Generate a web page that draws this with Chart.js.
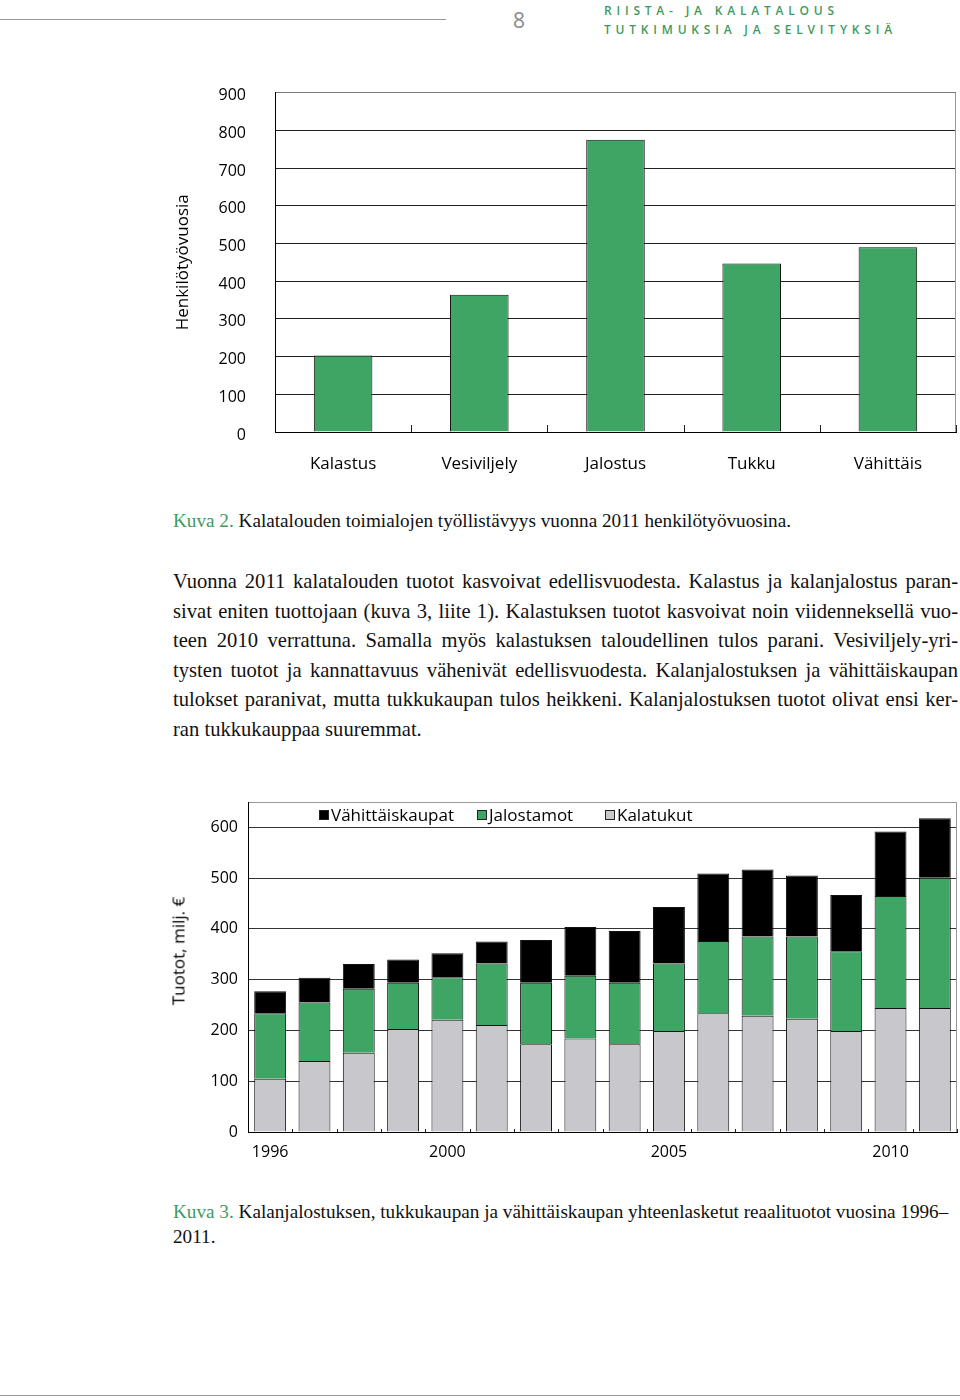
<!DOCTYPE html>
<html>
<head>
<meta charset="utf-8">
<script src="https://cdn.jsdelivr.net/npm/chart.js@4.4.1/dist/chart.umd.min.js"></script>
<style>
  body { margin: 0; background: #fff; }
  #page { position: relative; width: 960px; height: 1400px; overflow: hidden; }
  .hline { position: absolute; height: 0; border-top: 1.5px solid #999; }
  .pagenum { position: absolute; left: 513px; top: 6px; font: 21px 'Open Sans', sans-serif; color: #8a8a8a; }
  .series { position: absolute; left: 604px; font: 600 12px 'Open Sans', sans-serif; color: #3f9a60; letter-spacing: 4.8px; }
  .serif { position: absolute; font-family: 'Liberation Serif', 'Times New Roman', serif; color: #111; }
  .green { color: #3f9a60; }
  .para { left: 173px; top: 567px; width: 785px; font-size: 20.6px; line-height: 29.5px; }
  .para div { text-align: justify; text-align-last: justify; white-space: nowrap; }
  .para div.last { text-align-last: left; }
  .wrap { position: absolute; }
  .legend { position: absolute; top: 803px; font: 17px 'Open Sans', sans-serif; color: #000; white-space: nowrap; }
  .legend i { display: inline-block; width: 8px; height: 8px; border: 1px solid #222; margin-right: 2px; vertical-align: 1px; }
  .ytitle { position: absolute; font: 17px 'Open Sans', sans-serif; color: #000; white-space: nowrap;
            transform: translate(-50%, -50%) rotate(-90deg); }
</style>
</head>
<body>
<div id="page">
  <div class="hline" style="left:0; top:19px; width:446px;"></div>
  <div class="pagenum">8</div>
  <div class="series" style="top:2px;">RIISTA- JA KALATALOUS</div>
  <div class="series" style="top:21px;">TUTKIMUKSIA JA SELVITYKSIÄ</div>

  <div class="wrap" style="left:160px; top:54px; width:800px; height:426px;"><canvas id="employment"></canvas></div>

  <div class="serif" style="left:173px; top:510px; font-size:19.2px;"><span class="green">Kuva 2.</span> Kalatalouden toimialojen työllistävyys vuonna 2011 henkilötyövuosina.</div>

  <div class="serif para">
    <div>Vuonna 2011 kalatalouden tuotot kasvoivat edellisvuodesta. Kalastus ja kalanjalostus paran-</div>
    <div>sivat eniten tuottojaan (kuva 3, liite 1). Kalastuksen tuotot kasvoivat noin viidenneksellä vuo-</div>
    <div>teen 2010 verrattuna. Samalla myös kalastuksen taloudellinen tulos parani. Vesiviljely-yri-</div>
    <div>tysten tuotot ja kannattavuus vähenivät edellisvuodesta. Kalanjalostuksen ja vähittäiskaupan</div>
    <div>tulokset paranivat, mutta tukkukaupan tulos heikkeni. Kalanjalostuksen tuotot olivat ensi ker-</div>
    <div class="last">ran tukkukauppaa suuremmat.</div>
  </div>

  <div class="wrap" style="left:160px; top:780px; width:800px; height:400px;"><canvas id="revenue"></canvas></div>
  <div class="ytitle" style="left:178px; top:951px;">Tuotot, milj. €</div>
  <div class="legend" style="left:319px;"><i style="background:#000;"></i>Vähittäiskaupat</div>
  <div class="legend" style="left:477px;"><i style="background:#3fa564;"></i>Jalostamot</div>
  <div class="legend" style="left:605px;"><i style="background:#c8c8cc;"></i>Kalatukut</div>

  <div class="serif" style="left:173px; top:1199px; width:771px; font-size:19.2px; line-height:25px;">
    <div style="text-align:justify; text-align-last:justify; white-space:nowrap;"><span class="green">Kuva 3.</span> Kalanjalostuksen, tukkukaupan ja vähittäiskaupan yhteenlasketut reaalituotot vuosina 1996–</div>
    <div>2011.</div>
  </div>

  <div class="hline" style="left:0; top:1395px; width:960px;"></div>
</div>

<script>
// Kuva 2: henkilötyövuodet 2011
const sectors = ["Kalastus", "Vesiviljely", "Jalostus", "Tukku", "Vähittäis"];
const personYears = [203, 364, 775, 447, 490];

// Kuva 3: tuotot, milj. € 1996-2011
const years = ["1996", "1997", "1998", "1999", "2000", "2001", "2002", "2003",
               "2004", "2005", "2006", "2007", "2008", "2009", "2010", "2011"];
const shownYears = ["1996", "2000", "2005", "2010"];
const kalatukut = [105, 140, 156, 203, 221, 211, 173, 184, 173, 199, 234, 229, 223, 199, 244, 244];
const jalostamot = [129, 115, 126, 91, 84, 121, 121, 124, 121, 133, 142, 156, 162, 157, 221, 257];
const vahittaiskaupat = [43, 49, 49, 46, 47, 43, 84, 96, 102, 111, 133, 132, 120, 111, 127, 117];

const green = "#3fa564";
const grey = "#c8c8cc";

Chart.defaults.font.family = "'Open Sans', sans-serif";
Chart.defaults.color = "#000";

// small inward tick marks between categories + thin grey right frame
const frameTicks = {
  id: "frameTicks",
  afterDatasetsDraw(chart, args, opts) {
    const { ctx, chartArea } = chart;
    const x = chart.scales.x;
    const n = chart.data.labels.length;
    const half = (x.getPixelForValue(1) - x.getPixelForValue(0)) / 2;
    ctx.save();
    ctx.strokeStyle = "#222";
    ctx.lineWidth = 1;
    for (let i = 1; i <= n; i++) {
      const px = Math.round(x.getPixelForValue(i) - half) + 0.5;
      ctx.beginPath();
      ctx.moveTo(px, chartArea.bottom);
      ctx.lineTo(px, chartArea.bottom - opts.len);
      ctx.stroke();
    }
    ctx.strokeStyle = "#999";
    ctx.beginPath();
    ctx.moveTo(chartArea.right - 0.5, chartArea.top);
    ctx.lineTo(chartArea.right - 0.5, chartArea.bottom);
    ctx.stroke();
    ctx.restore();
  }
};

new Chart(document.getElementById("employment"), {
  type: "bar",
  data: {
    labels: sectors,
    datasets: [{
      data: personYears,
      backgroundColor: green,
      borderColor: "#111",
      borderWidth: 1,
      barPercentage: 0.43,
      categoryPercentage: 1
    }]
  },
  plugins: [frameTicks],
  options: {
    responsive: true,
    maintainAspectRatio: false,
    animation: false,
    layout: { padding: { top: 6, right: 4, left: 0, bottom: 0 } },
    plugins: {
      legend: { display: false },
      tooltip: { enabled: false },
      frameTicks: { len: 7 }
    },
    scales: {
      x: {
        grid: { display: false },
        border: { display: true, color: "#000", width: 1 },
        ticks: { font: { size: 17 }, padding: 14 },
        afterFit: (s) => { s.height = 48; }
      },
      y: {
        min: 0,
        max: 900,
        ticks: { stepSize: 100, font: { size: 16 }, padding: 29, labelOffset: 3 },
        grid: {
          drawTicks: false,
          color: (c) => c.tick && c.tick.value === 900 ? "#777" : "#222"
        },
        border: { color: "#000", width: 1 },
        title: { display: true, text: "Henkilötyövuosia", font: { size: 17 }, padding: { top: 13, bottom: 0 } },
        afterFit: (s) => { s.width = 115; }
      }
    }
  }
});

new Chart(document.getElementById("revenue"), {
  type: "bar",
  data: {
    labels: years,
    datasets: [
      { label: "Kalatukut", data: kalatukut, backgroundColor: grey },
      { label: "Jalostamot", data: jalostamot, backgroundColor: green },
      { label: "Vähittäiskaupat", data: vahittaiskaupat, backgroundColor: "#000" }
    ].map(d => Object.assign(d, { borderColor: "#111", borderWidth: 1, barPercentage: 0.72, categoryPercentage: 1 }))
  },
  plugins: [frameTicks],
  options: {
    responsive: true,
    maintainAspectRatio: false,
    animation: false,
    layout: { padding: { top: 22, right: 3, left: 0, bottom: 0 } },
    plugins: {
      legend: { display: false },
      tooltip: { enabled: false },
      frameTicks: { len: 3 }
    },
    scales: {
      x: {
        stacked: true,
        grid: { display: false },
        border: { display: true, color: "#000", width: 1 },
        ticks: {
          autoSkip: false,
          maxRotation: 0,
          font: { size: 16 },
          padding: 3,
          callback: function (v) {
            const lab = this.getLabelForValue(v);
            return shownYears.includes(lab) ? lab : "";
          }
        },
        afterFit: (s) => { s.height = 48; }
      },
      y: {
        stacked: true,
        min: 0,
        max: 650,
        ticks: {
          stepSize: 100,
          font: { size: 16 },
          padding: 10,
          callback: (v) => v === 650 ? "" : v
        },
        grid: {
          drawTicks: false,
          color: (c) => c.tick && c.tick.value === 650 ? "#999" : "#333"
        },
        border: { color: "#000", width: 1 },
        afterFit: (s) => { s.width = 88; }
      }
    }
  }
});
</script>
</body>
</html>
